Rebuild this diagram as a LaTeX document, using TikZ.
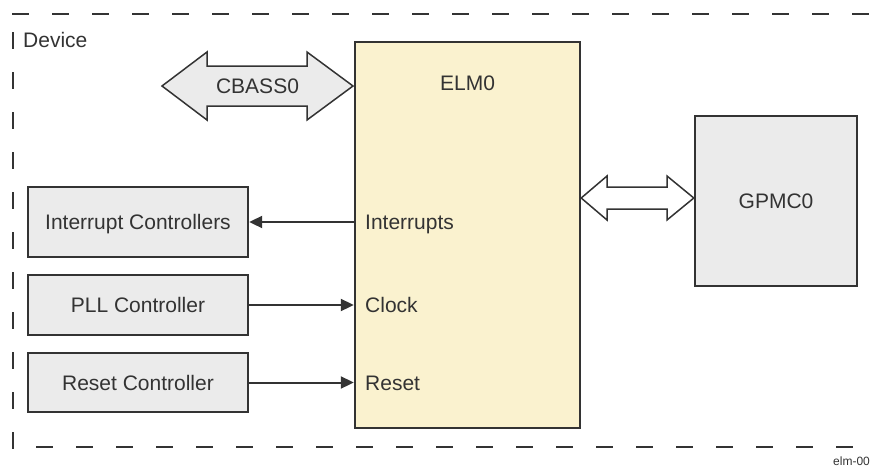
\documentclass[tikz,border=0pt]{standalone}
\usepackage{fontspec}
\setmainfont{Liberation Sans}
\usetikzlibrary{arrows.meta}
\definecolor{ink}{HTML}{333333}
\definecolor{boxgray}{HTML}{EBEBEB}
\definecolor{elmfill}{HTML}{FAF2CF}
\tikzset{
  blk/.style={draw=ink, line width=2.4pt, inner sep=0pt, text=ink,
    font=\fontsize{21}{25}\selectfont, text height=15pt, text depth=0pt},
  lbl/.style={inner sep=0pt, text=ink, font=\fontsize{21}{25}\selectfont,
    text height=15pt, text depth=0pt},
  border/.style={draw=ink, line width=2pt, dash pattern=on 17pt off 23pt},
  sig/.style={draw=ink, line width=2pt, -{Triangle[length=13pt,width=12pt]}},
  busarrow/.style={draw=ink, line width=1.5pt, line join=miter}
}
\begin{document}
\begin{tikzpicture}[x=1pt,y=-1pt]
\useasboundingbox (0,0) rectangle (870,466);
% device border
\draw[border] (12,14) -- (870,14);
\draw[border] (13,32) -- (13,449);
\draw[border] (36,447) -- (853,447);
\node[lbl, anchor=west] (dev) at (23,40) {Device};
% blocks
\node[blk, fill=elmfill, minimum width=225pt, minimum height=386pt] (elm) at (467.5,235) {};
\node[lbl] (elmlbl) at (467.5,83) {ELM0};
\node[blk, fill=boxgray, minimum width=162pt, minimum height=170pt] (gpmc) at (776,201) {GPMC0};
\node[blk, fill=boxgray, minimum width=220pt, minimum height=70pt] (intc) at (138,222) {Interrupt Controllers};
\node[blk, fill=boxgray, minimum width=220pt, minimum height=60pt] (pll) at (138,305) {PLL Controller};
\node[blk, fill=boxgray, minimum width=220pt, minimum height=59pt] (rst) at (138,382.5) {Reset Controller};
% signal labels
\node[lbl, anchor=west] (lint) at (365,222) {Interrupts};
\node[lbl, anchor=west] (lclk) at (365,305) {Clock};
\node[lbl, anchor=west] (lrst) at (365,382.5) {Reset};
% signal arrows
\draw[sig] (intc.east -| elm.west) -- (intc.east);
\draw[sig] (pll.east) -- (pll.east -| elm.west);
\draw[sig] (rst.east) -- (rst.east -| elm.west);
% CBASS0 bus arrow
\draw[busarrow, fill=boxgray] (162,86) -- (207,52) -- (207,66) -- (307,66) -- (307,52)
  -- (353,86) -- (307,120) -- (307,106) -- (207,106) -- (207,120) -- cycle;
\node[lbl] (cbass) at (257.5,86) {CBASS0};
% ELM0 <-> GPMC0 bus arrow
\draw[busarrow, fill=white] (elm.east |- 0,198) -- (607,176) -- (607,187) -- (667,187) -- (667,176)
  -- (gpmc.west |- 0,198) -- (667,220) -- (667,209) -- (607,209) -- (607,220) -- cycle;
% figure id (cut at the right edge, as in the reference)
\node[inner sep=0pt, anchor=base west, text=ink, font=\fontsize{12}{14}\selectfont] (fid) at (833,465) {elm-001};
\end{tikzpicture}
\end{document}
